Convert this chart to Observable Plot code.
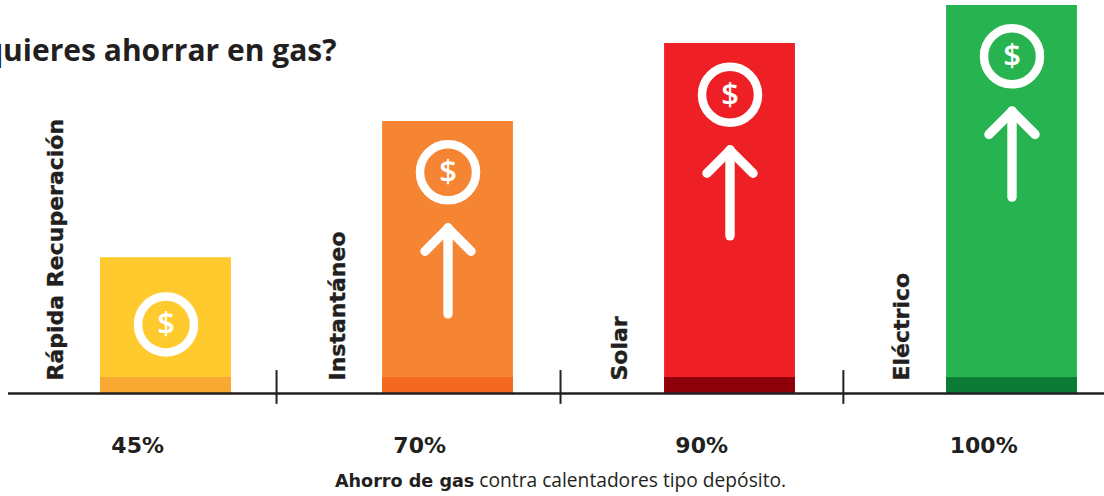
<!DOCTYPE html>
<html><head><meta charset="utf-8">
<script src="https://cdn.jsdelivr.net/npm/d3@7"></script>
<script src="https://cdn.jsdelivr.net/npm/@observablehq/plot@0.6"></script>
<style>
html,body{margin:0;padding:0;background:#fff;overflow:hidden}
#cap{height:34px;margin-left:17px;text-align:center;color:#231f20;font:19.2px/36px "Open Sans",sans-serif;white-space:nowrap}
#cap b{font-family:"DejaVu Sans";font-weight:700;font-size:17.6px}
svg{display:block}
</style></head><body>
<div id="chart"></div>
<div id="cap"><b>Ahorro de gas</b> contra calentadores tipo depósito.</div>
<script>
const categories = ["Rápida Recuperación","Instantáneo","Solar","Eléctrico"];
const savingsLabels = ["45%","70%","90%","100%"];
const barHeights = [35,70.1,90.2,100];
const barColors = ["#ffca2e","#f68533","#ef1f26","#27b34f"];
const footColors = ["#f9a832","#f4691f","#8d0009","#0c7b35"];
const footHeight = 4.1;
const coinLevels = [17.8,57,77,86.9];
const arrowTails = [null,20.4,40.5,50.5];
const arrowTips = [null,42.6,62.7,72.7];
const dividers = [0.392,1.399,2.402];
const titleText = "quieres ahorrar en gas?";
const half = 0.232;
const headHalfWidth = 0.0816;
const headDrop = 5.93;

const rows = categories.map((c,i)=>({c,i,label:savingsLabels[i],h:barHeights[i],color:barColors[i],foot:footColors[i],coin:coinLevels[i],tail:arrowTails[i],tip:arrowTips[i]}));
const arrowRows = rows.filter(d=>d.tail!=null);
const heads = arrowRows.flatMap(d=>[
  {i:d.i,x:d.i-headHalfWidth,y:d.tip-headDrop},
  {i:d.i,x:d.i,y:d.tip},
  {i:d.i,x:d.i+headHalfWidth,y:d.tip-headDrop}
]);
const ink = "#231f20";

const plot = Plot.plot({
  width:1104,height:462,
  marginLeft:8,marginRight:0,marginTop:0,marginBottom:0,
  x:{type:"linear",domain:[0,3],range:[165.5,1011.5],axis:null},
  y:{type:"linear",domain:[0,100],range:[393,5],axis:null},
  color:{type:"identity"},
  style:{background:"#fff",overflow:"hidden"},
  marks:[
    Plot.rectY(rows,{x1:d=>d.i-half,x2:d=>d.i+half,y1:0,y2:"h",fill:"color",inset:0}),
    Plot.rectY(rows,{x1:d=>d.i-half,x2:d=>d.i+half,y1:0,y2:footHeight,fill:"foot",inset:0}),
    Plot.ruleY([0],{stroke:ink,strokeWidth:2.4}),
    Plot.ruleX(dividers,{x:d=>d,y1:-2.8,y2:5.9,stroke:ink,strokeWidth:2}),
    Plot.dot(rows,{x:"i",y:"coin",r:28,stroke:"#fff",strokeWidth:8.5,fill:"none"}),
    Plot.text(rows,{x:"i",y:"coin",text:()=>"$",fill:"#fff",fontSize:31,fontWeight:600,fontFamily:"Open Sans"}),
    Plot.ruleX(arrowRows,{x:"i",y1:"tail",y2:"tip",stroke:"#fff",strokeWidth:9.4,strokeLinecap:"round"}),
    Plot.line(heads,{x:"x",y:"y",z:"i",stroke:"#fff",strokeWidth:9.4,strokeLinecap:"round",strokeLinejoin:"round",curve:"linear"}),
    Plot.text(rows,{x:"i",y:3.35,text:"c",dx:-110.5,rotate:-90,textAnchor:"start",fill:ink,stroke:ink,strokeWidth:0.35,fontSize:22,fontWeight:700,fontFamily:"DejaVu Sans"}),
    Plot.text(rows,{x:"i",y:-13.4,text:"label",dx:-28.3,fill:ink,fontSize:22,fontWeight:700,fontFamily:"DejaVu Sans"}),
    Plot.text([titleText],{x:0.6046,y:88.2,text:d=>d,textAnchor:"end",fill:ink,fontSize:30,fontWeight:700,fontFamily:"Open Sans"})
  ]
});
document.getElementById("chart").appendChild(plot);
</script>
</body></html>
